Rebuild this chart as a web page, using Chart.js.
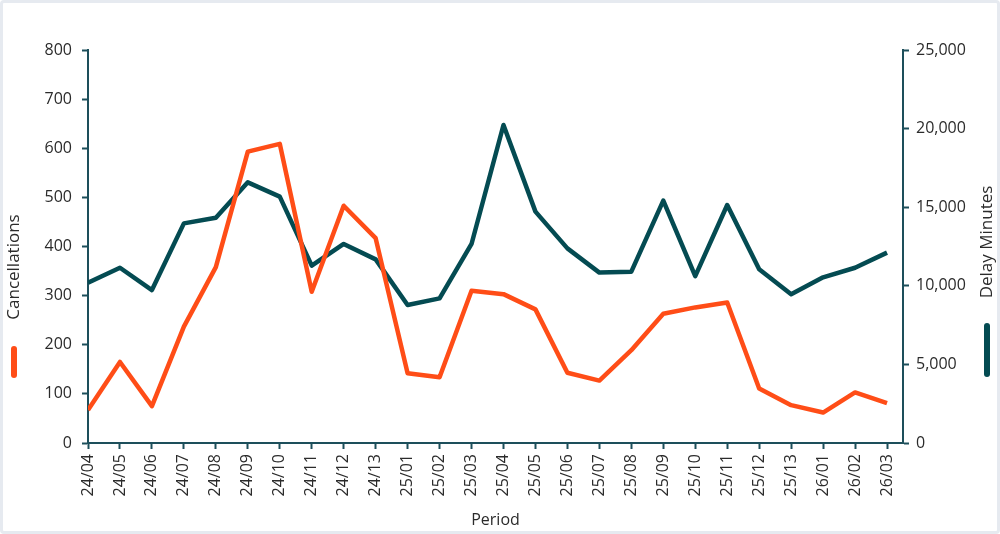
<!DOCTYPE html>
<html lang="en">
<head>
    <meta charset="UTF-8">
    <title>Cancellations and Delay Minutes</title>
    <script src="https://cdn.jsdelivr.net/npm/chart.js"></script>
    <style>
        body {
            margin: 0;
            background-color: #ffffff;
        }
        .wrap {
            position: relative;
            width: 1000px;
            height: 534px;
        }
        .frame {
            position: absolute;
            left: 0; top: 0; right: 0; bottom: 0;
            border: 3px solid #e6eaf0;
            border-radius: 4px;
            pointer-events: none;
        }
    </style>
</head>
<body>
    <div class="wrap">
        <canvas id="delayChart"></canvas>
        <div class="frame"></div>
    </div>

    <script>
        // Periodi (anno/periodo)
        const periods = ['24/04', '24/05', '24/06', '24/07', '24/08', '24/09', '24/10', '24/11', '24/12', '24/13',
                         '25/01', '25/02', '25/03', '25/04', '25/05', '25/06', '25/07', '25/08', '25/09', '25/10',
                         '25/11', '25/12', '25/13', '26/01', '26/02', '26/03'];
        const cancellations = [67, 165, 75, 237, 358, 593, 609, 308, 483, 417,
                               142, 134, 310, 303, 272, 143, 127, 189, 263, 276,
                               286, 111, 77, 62, 103, 81];
        const delayMinutes = [10200, 11150, 9730, 13970, 14330, 16580, 15670, 11280, 12660, 11680,
                              8780, 9200, 12660, 20230, 14720, 12380, 10840, 10900, 15420, 10620,
                              15140, 11050, 9460, 10540, 11150, 12110];
        const leftTicks = [0, 100, 200, 300, 400, 500, 600, 700, 800];
        const rightTicks = [0, 5000, 10000, 15000, 20000, 25000];

        const orange = '#ff4d17';
        const teal = '#044b52';
        const axisColor = '#1d4f5b';
        const textColor = '#2b2b2b';
        const fontFamily = '"Open Sans", sans-serif';

        // Titoli laterali con il segno della serie sotto
        const sideTitles = {
            id: 'sideTitles',
            afterDraw(chart) {
                const c = chart.ctx;
                const items = [
                    { text: 'Cancellations', x: 14, yText: 267, y1: 349, y2: 375, color: orange },
                    { text: 'Delay Minutes', x: 987, yText: 242, y1: 326, y2: 374, color: teal }
                ];
                items.forEach(it => {
                    c.save();
                    c.translate(it.x, it.yText);
                    c.rotate(-Math.PI / 2);
                    c.font = '17px ' + fontFamily;
                    c.fillStyle = textColor;
                    c.textAlign = 'center';
                    c.textBaseline = 'middle';
                    c.fillText(it.text, 0, 0);
                    c.restore();

                    c.save();
                    c.strokeStyle = it.color;
                    c.lineWidth = 6;
                    c.lineCap = 'round';
                    c.beginPath();
                    c.moveTo(it.x, it.y1);
                    c.lineTo(it.x, it.y2);
                    c.stroke();
                    c.restore();
                });
            }
        };

        const ctx = document.getElementById('delayChart').getContext('2d');
        const chart = new Chart(ctx, {
            type: 'line',
            data: {
                datasets: [
                    {
                        label: 'Cancellations',
                        data: cancellations.map((v, i) => ({ x: i, y: v })),
                        borderColor: orange,
                        borderWidth: 4.5,
                        pointRadius: 0,
                        tension: 0,
                        borderJoinStyle: 'round',
                        yAxisID: 'y'
                    },
                    {
                        label: 'Delay Minutes',
                        data: delayMinutes.map((v, i) => ({ x: i, y: v })),
                        borderColor: teal,
                        borderWidth: 4.5,
                        pointRadius: 0,
                        tension: 0,
                        borderJoinStyle: 'round',
                        yAxisID: 'y1'
                    }
                ]
            },
            options: {
                responsive: true,
                maintainAspectRatio: false,
                animation: false,
                layout: { padding: { top: 50 } },
                plugins: {
                    legend: { display: false },
                    tooltip: { enabled: false }
                },
                scales: {
                    x: {
                        type: 'linear',
                        min: 0,
                        max: periods.length - 0.5,
                        afterBuildTicks: s => { s.ticks = periods.map((p, i) => ({ value: i })); },
                        afterFit: s => { s.height = 91; },
                        grid: { drawOnChartArea: false, color: axisColor, tickLength: 6, tickWidth: 2 },
                        border: { color: axisColor, width: 2 },
                        ticks: {
                            minRotation: 90,
                            maxRotation: 90,
                            padding: 5,
                            color: textColor,
                            font: { family: fontFamily, size: 16 },
                            callback: v => periods[v]
                        },
                        title: {
                            display: true,
                            text: 'Period',
                            color: textColor,
                            font: { family: fontFamily, size: 16 },
                            padding: { top: 0, bottom: 4 }
                        }
                    },
                    y: {
                        position: 'left',
                        min: 0,
                        max: 800,
                        afterBuildTicks: s => { s.ticks = leftTicks.map(v => ({ value: v })); },
                        afterFit: s => { s.width = 88; },
                        grid: { drawOnChartArea: false, color: axisColor, tickLength: 6, tickWidth: 2 },
                        border: { color: axisColor, width: 2 },
                        ticks: {
                            padding: 10,
                            color: textColor,
                            font: { family: fontFamily, size: 16 }
                        }
                    },
                    y1: {
                        position: 'right',
                        min: 0,
                        max: 25000,
                        afterBuildTicks: s => { s.ticks = rightTicks.map(v => ({ value: v })); },
                        afterFit: s => { s.width = 97; },
                        grid: { drawOnChartArea: false, color: axisColor, tickLength: 6, tickWidth: 2 },
                        border: { color: axisColor, width: 2 },
                        ticks: {
                            padding: 7,
                            color: textColor,
                            font: { family: fontFamily, size: 16 },
                            callback: v => v.toLocaleString('en-US')
                        }
                    }
                }
            },
            plugins: [sideTitles]
        });
    </script>
</body>
</html>
